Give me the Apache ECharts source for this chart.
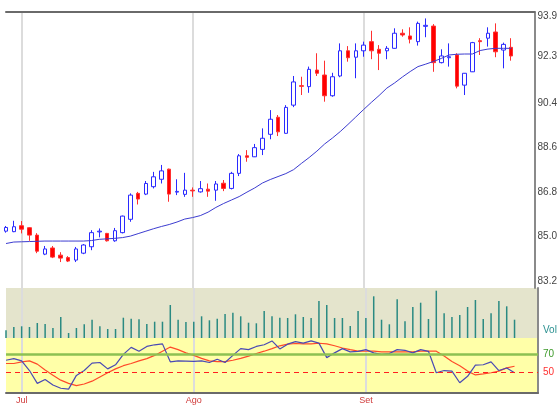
<!DOCTYPE html>
<html><head><meta charset="utf-8">
<script src="https://cdn.jsdelivr.net/npm/echarts@6/dist/echarts.min.js"></script>
<style>html,body{margin:0;padding:0;background:#fff}#c{width:560px;height:405px}</style>
</head><body><div id="c"></div>
<script>
// month tick labels at session index
const monthIndex = [2, 24, 46];
const monthNames = ['Jul', 'Ago', 'Set'];
const slotCount = 69; // 66 sessions + empty space on the right

const open  = [85.22,85.20,85.44,85.36,85.06,84.29,84.54,84.25,84.15,84.05,84.33,84.59,85.19,85.13,84.83,85.16,85.70,86.75,86.72,87.02,87.32,87.73,86.80,86.71,86.88,86.81,86.92,86.88,87.16,86.95,87.56,88.27,88.23,88.53,89.14,89.83,89.18,90.32,91.11,91.07,91.74,91.54,90.70,91.50,92.52,92.26,92.52,92.89,92.58,92.52,92.62,93.23,93.12,92.89,93.51,93.52,92.04,92.24,92.35,91.13,91.67,92.93,93.03,93.28,92.55,92.66];
const close = [85.37,85.40,85.30,85.06,84.41,84.50,84.17,84.13,84.01,84.50,84.66,85.16,85.22,84.83,85.24,85.83,86.68,86.52,87.15,87.42,87.66,86.72,86.83,86.88,86.85,86.94,86.84,87.13,86.95,87.56,88.27,88.21,88.60,88.98,89.75,89.24,90.23,91.26,91.08,91.77,91.61,90.70,91.47,92.52,92.24,92.52,92.75,92.52,92.42,92.62,93.23,93.16,92.99,93.63,93.55,92.04,92.31,92.28,91.09,91.61,92.85,92.89,93.23,92.48,92.78,92.31];
const low   = [85.16,85.18,85.13,84.83,84.33,84.25,84.13,83.97,83.97,83.97,84.29,84.45,84.97,84.80,84.79,85.13,85.60,86.30,86.68,86.95,87.15,86.41,86.68,86.61,86.61,86.78,86.61,86.45,86.84,86.91,87.45,88.03,88.22,88.30,88.94,89.07,89.17,90.24,90.73,90.82,91.50,90.46,90.66,91.45,92.08,91.41,92.28,92.18,91.74,92.18,92.61,93.09,92.82,92.73,93.07,91.67,92.01,91.88,91.00,90.73,91.66,92.35,92.69,92.26,91.81,92.12];
const high  = [85.43,85.64,85.63,85.38,85.14,84.62,84.62,84.37,84.21,84.58,84.70,85.26,85.33,85.15,85.35,85.85,86.75,86.81,87.25,87.62,87.90,87.75,87.32,87.58,86.99,87.25,87.15,87.25,87.29,87.62,88.34,88.50,88.75,89.38,90.12,89.92,90.32,91.50,91.47,91.88,92.42,92.12,91.63,92.82,92.71,92.82,92.89,93.33,92.75,92.71,93.43,93.39,93.47,93.70,93.83,93.60,92.58,92.82,92.42,91.62,92.88,93.03,93.47,93.63,92.85,93.03];
const movingAvg = [84.72,84.78,84.79,84.80,84.81,84.82,84.82,84.82,84.82,84.82,84.82,84.84,84.89,84.91,84.93,84.96,85.02,85.12,85.22,85.32,85.41,85.49,85.59,85.71,85.77,85.85,85.99,86.18,86.34,86.48,86.62,86.80,86.97,87.17,87.31,87.43,87.55,87.71,87.96,88.20,88.46,88.75,88.99,89.25,89.54,89.84,90.14,90.43,90.71,91.01,91.22,91.46,91.68,91.88,91.98,92.09,92.21,92.35,92.38,92.39,92.39,92.53,92.59,92.62,92.62,92.62];
const volume = [7.7,11,11.7,11,15,14,10,21,5,10,13.7,18.3,11.7,9,9,20.3,19.3,18.7,14,16.3,16.3,33,18.3,16,16.3,21.7,17.7,19.3,24,25.3,21.7,15.3,14.7,27,21.7,20.3,20,23.7,21,20,37,33,20,20,12,27,20,41.7,18.3,13.7,38.7,16.7,31,35.3,19,47.3,24.7,21,23,31,38,19,24.7,37,31.7,18.3];
const rsi = [62.9,64.7,62.2,51.7,37.7,41.9,35.9,32.4,31.4,46.4,51.7,59.8,60.5,53.5,58,69.3,77,72.7,78,79.8,80.8,61.2,62.2,61.9,61.6,62.2,60.5,64,60.5,68.2,75.6,74.5,78,79.8,84,75.3,80.5,83.3,81.6,84,81.6,65.8,71,75.6,72.1,72.7,74.5,71,69.3,70.3,74.5,73.8,71,74.5,72.7,49.3,51.7,51,38.4,45.4,57.7,58,61.2,51.7,54.5,49.3];
const rsiAvg = [59.4,59.4,61.2,62.2,58.7,52.4,46.5,41.2,37.7,35.2,37,40.1,44.7,49.3,53.5,57,59.4,62.2,64.7,68.2,72.8,77.3,74.5,71,68.2,65,62.2,61.5,61.5,62.9,65,67.5,70.3,72.8,75.6,78.7,80.5,81.2,80.8,80.8,81.5,80.8,78.7,76.3,74.5,72.8,72.8,72.8,72.1,72.1,72.1,72.1,72.1,72.8,72.8,72.8,67.5,61.5,57,51.1,46.9,48,49.3,51.1,54.6,56.4];
const priceTicks = [83.2, 85.0, 86.8, 88.6, 90.4, 92.3, 93.9];
const rsiTicks = [50, 70];
const volTickLabel = 'Vol';

const slots = Array.from({length: slotCount}, (_, i) => String(i));
const monthOf = i => { const k = monthIndex.indexOf(i); return k >= 0 ? monthNames[k] : ''; };
const isMonth = i => monthIndex.indexOf(i) >= 0;
const candles = open.map((o, i) => [o, close[i], low[i], high[i]]);
const font = 'Liberation Sans, Arial, sans-serif';
const vSplit = {show: true, interval: (i) => isMonth(i), lineStyle: {color: '#dcdcdc', width: 2}};

const chart = echarts.init(document.getElementById('c'), null, {renderer: 'canvas'});
chart.setOption({
  animation: false,
  textStyle: {fontFamily: font},
  grid: [
    {left: 6, right: 22, top: 12, height: 276, show: true, backgroundColor: '#ffffff', borderWidth: 0},
    {left: 6, right: 22, top: 288, height: 50, show: true, backgroundColor: '#e4e4cc', borderWidth: 0},
    {left: 6, right: 22, top: 338, height: 57, show: true, backgroundColor: '#ffffa8', borderWidth: 0}
  ],
  xAxis: [
    {type: 'category', gridIndex: 0, data: slots, boundaryGap: false, position: 'top',
     axisLine: {show: true, lineStyle: {color: '#6a6a6a', width: 2}}, axisTick: {show: false}, axisLabel: {show: false}, splitLine: vSplit},
    {type: 'category', gridIndex: 1, data: slots, boundaryGap: false,
     axisLine: {show: false}, axisTick: {show: false}, axisLabel: {show: false}, splitLine: vSplit},
    {type: 'category', gridIndex: 2, data: slots, boundaryGap: false, position: 'bottom',
     axisLine: {show: true, lineStyle: {color: '#6a6a6a', width: 2}}, axisTick: {show: false},
     axisLabel: {show: true, interval: (i) => isMonth(i), formatter: (v, i) => monthOf(i), color: '#d03a3a', fontSize: 9, margin: 3},
     splitLine: vSplit}
  ],
  yAxis: [
    {type: 'value', gridIndex: 0, position: 'right', min: 82.92, max: 94.09,
     axisLine: {show: true, lineStyle: {color: '#8a8a8a', width: 2}}, axisTick: {show: false}, splitLine: {show: false},
     axisLabel: {customValues: priceTicks, formatter: v => v.toFixed(1), color: '#444', fontSize: 10, margin: 3}},
    {type: 'value', gridIndex: 1, position: 'right', min: 0, max: 50,
     axisLine: {show: true, lineStyle: {color: '#8a8a8a', width: 2}}, axisTick: {show: false}, splitLine: {show: false},
     axisLabel: {customValues: [8], formatter: () => volTickLabel, color: '#2a9090', fontSize: 10, margin: 5}},
    {type: 'value', gridIndex: 2, position: 'right', min: 27.2, max: 87.2,
     axisLine: {show: true, lineStyle: {color: '#8a8a8a', width: 2}}, axisTick: {show: false}, splitLine: {show: false},
     axisLabel: {customValues: rsiTicks, formatter: v => String(v), color: (v) => (Number(v) === 70 ? '#3d9a2a' : '#ff3030'), fontSize: 10, margin: 5}}
  ],
  series: [
    {type: 'candlestick', xAxisIndex: 0, yAxisIndex: 0, data: candles, barWidth: 4, clip: false,
     itemStyle: {color: '#ffffff', color0: '#ff0000', borderColor: '#2a2aff', borderColor0: '#ff3030', borderWidth: 1}},
    {type: 'line', xAxisIndex: 0, yAxisIndex: 0, data: movingAvg, showSymbol: false, symbol: 'none',
     lineStyle: {color: '#3c3cd0', width: 1}},
    {type: 'bar', xAxisIndex: 1, yAxisIndex: 1, data: volume, barWidth: 1.5, itemStyle: {color: '#2a8a82'}},
    {type: 'line', xAxisIndex: 2, yAxisIndex: 2, data: rsiAvg, showSymbol: false, symbol: 'none',
     lineStyle: {color: '#ff4a2a', width: 1.2}, z: 3,
     markLine: {silent: true, symbol: 'none', label: {show: false},
       data: [
         {yAxis: 70, lineStyle: {color: '#8cc152', width: 2.5, type: 'solid'}},
         {yAxis: 50, lineStyle: {color: '#ff2020', width: 1.2, type: [5, 4]}}
       ]}},
    {type: 'line', xAxisIndex: 2, yAxisIndex: 2, data: rsi, showSymbol: false, symbol: 'none',
     lineStyle: {color: '#4a4ab4', width: 1.2}, z: 4}
  ]
});
</script></body></html>
